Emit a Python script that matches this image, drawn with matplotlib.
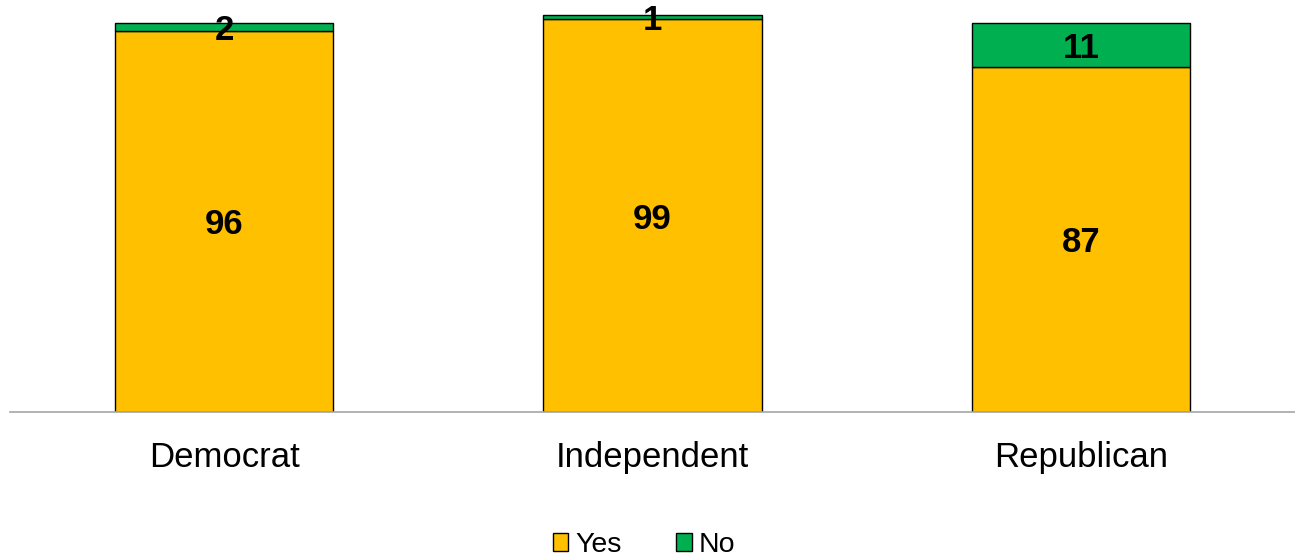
import matplotlib.pyplot as plt
import numpy as np

plt.rcParams['font.family'] = ['Liberation Sans', 'DejaVu Sans']

categories = ["Democrat", "Independent", "Republican"]
yes_vals = [96, 99, 87]
no_vals = [2, 1, 11]

gold = "#FFC000"
green = "#00B050"

fig = plt.figure(figsize=(12.95, 5.56), dpi=100)
ax = fig.add_axes([10 / 1295, 1 - 412 / 556, 1285 / 1295, 412 / 556])

x = np.arange(len(categories))
w = 0.51
b1 = ax.bar(x, yes_vals, width=w, color=gold, edgecolor="black", linewidth=1, label="Yes")
b2 = ax.bar(x, no_vals, width=w, bottom=yes_vals, color=green, edgecolor="black", linewidth=1, label="No")

for i in range(len(categories)):
    ax.text(x[i], yes_vals[i] / 2, str(yes_vals[i]), ha="center", va="center_baseline",
            fontsize=25, fontweight="bold")
    ax.text(x[i], yes_vals[i] + no_vals[i] / 2, str(no_vals[i]), ha="center", va="center_baseline",
            fontsize=25, fontweight="bold")

ax.set_xlim(-0.5, 2.5)
ax.set_ylim(0, 103.8)
ax.set_xticks(x)
ax.set_xticklabels(categories, fontsize=25)
ax.tick_params(axis="x", length=0, pad=21)
ax.set_yticks([])
for s in ["top", "right", "left"]:
    ax.spines[s].set_visible(False)
ax.spines["bottom"].set_color("#A6A6A6")
ax.spines["bottom"].set_linewidth(1.2)

fig.legend(handles=[b1, b2], loc="center", bbox_to_anchor=(644 / 1295, 1 - 545 / 556),
           ncol=2, frameon=False, fontsize=20.5, handlelength=0.55, handleheight=0.55,
           handletextpad=0.25, columnspacing=1.9, borderpad=0)

fig.savefig("out.png", dpi=100)
